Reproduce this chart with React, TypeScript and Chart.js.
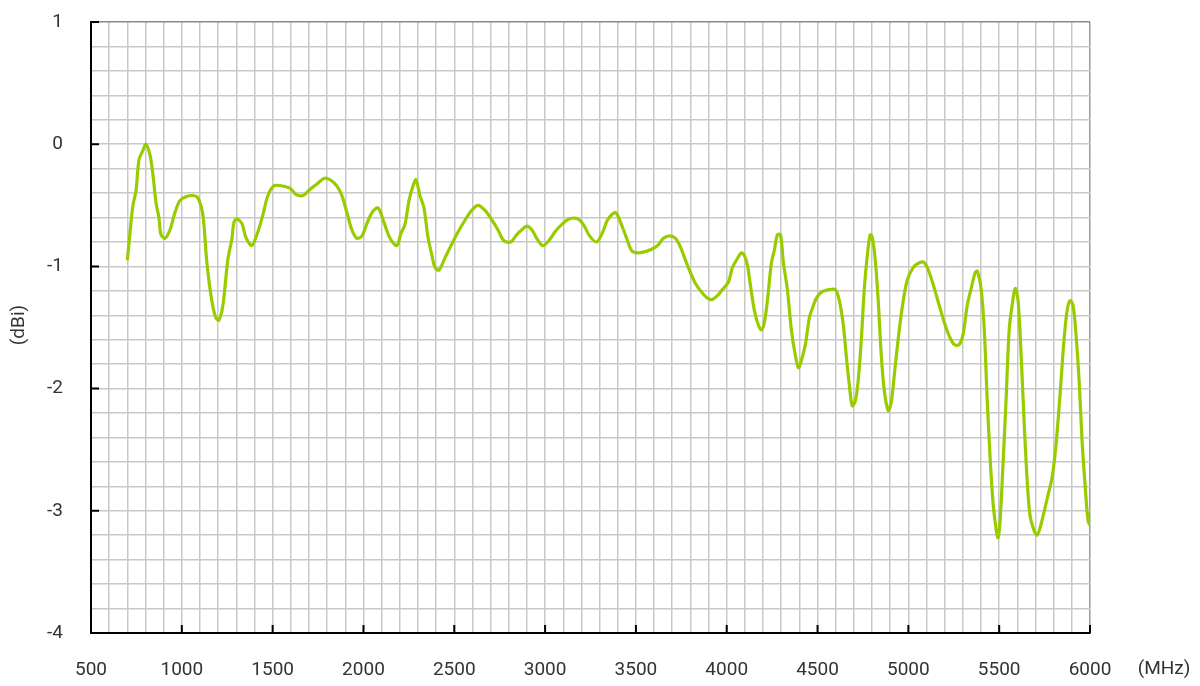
import React, { useEffect, useRef } from "react";
import { Chart, registerables } from "chart.js";

Chart.register(...registerables);

const freqMHz: number[] = [
  700, 715, 731, 748, 764, 786, 802, 825, 841, 858, 874, 885, 907, 935, 962, 990,
  1023, 1061, 1089, 1116, 1138, 1165, 1187, 1204, 1226, 1253, 1276, 1287, 1303, 1331,
  1352, 1385, 1418, 1446, 1474, 1507, 1545, 1595, 1628, 1667, 1705, 1749, 1782, 1815,
  1853, 1881, 1909, 1936, 1964, 1992, 2019, 2047, 2080, 2113, 2146, 2184, 2206, 2228,
  2251, 2273, 2289, 2311, 2333, 2355, 2377, 2394, 2416, 2449, 2482, 2520, 2564, 2597,
  2630, 2668, 2707, 2740, 2773, 2811, 2844, 2872, 2899, 2927, 2954, 2987, 3020, 3058,
  3097, 3135, 3179, 3212, 3245, 3284, 3317, 3344, 3387, 3421, 3449, 3476, 3509, 3548,
  3586, 3619, 3652, 3685, 3718, 3745, 3773, 3800, 3828, 3861, 3894, 3921, 3949, 3976,
  4009, 4031, 4053, 4081, 4097, 4114, 4130, 4152, 4174, 4191, 4207, 4224, 4246, 4262,
  4279, 4296, 4312, 4334, 4356, 4378, 4395, 4411, 4433, 4455, 4477, 4494, 4521, 4565,
  4598, 4620, 4642, 4658, 4675, 4691, 4708, 4724, 4741, 4757, 4774, 4790, 4801, 4818,
  4834, 4851, 4867, 4889, 4906, 4928, 4950, 4972, 4994, 5027, 5060, 5088, 5115, 5143,
  5170, 5198, 5225, 5253, 5280, 5302, 5324, 5346, 5368, 5380, 5401, 5418, 5434, 5451,
  5467, 5484, 5494, 5505, 5522, 5538, 5555, 5571, 5588, 5604, 5621, 5637, 5654, 5670,
  5692, 5709, 5725, 5747, 5769, 5791, 5813, 5835, 5857, 5874, 5890, 5907, 5923, 5940,
  5956, 5973, 5989, 6000,
];

const gainDBi: number[] = [
  -0.95, -0.72, -0.5, -0.38, -0.13, -0.05, 0.0, -0.09, -0.25, -0.48, -0.6, -0.74, -0.77, -0.7, -0.56, -0.46,
  -0.43, -0.42, -0.44, -0.58, -0.97, -1.28, -1.42, -1.44, -1.32, -0.95, -0.77, -0.64, -0.61, -0.65,
  -0.76, -0.83, -0.72, -0.58, -0.42, -0.34, -0.34, -0.36, -0.41, -0.42, -0.37, -0.32, -0.28, -0.29,
  -0.34, -0.42, -0.56, -0.7, -0.77, -0.75, -0.65, -0.56, -0.52, -0.64, -0.77, -0.83, -0.73, -0.66,
  -0.46, -0.34, -0.29, -0.42, -0.52, -0.76, -0.91, -1.01, -1.03, -0.93, -0.83, -0.72, -0.61, -0.54,
  -0.5, -0.54, -0.62, -0.7, -0.79, -0.8, -0.74, -0.7, -0.67, -0.7, -0.77, -0.83, -0.79, -0.71,
  -0.65, -0.61, -0.61, -0.66, -0.75, -0.8, -0.72, -0.62, -0.56, -0.66, -0.77, -0.87, -0.89, -0.88,
  -0.86, -0.83, -0.77, -0.75, -0.77, -0.84, -0.95, -1.05, -1.14, -1.21, -1.26, -1.27, -1.24, -1.19,
  -1.13, -1.01, -0.95, -0.89, -0.91, -0.99, -1.15, -1.36, -1.48, -1.52, -1.46, -1.28, -0.97, -0.87,
  -0.74, -0.74, -0.97, -1.19, -1.52, -1.73, -1.83, -1.77, -1.64, -1.42, -1.32, -1.26, -1.21, -1.19,
  -1.19, -1.28, -1.48, -1.73, -1.97, -2.14, -2.1, -1.93, -1.6, -1.19, -0.91, -0.74, -0.76, -0.95,
  -1.28, -1.73, -2.01, -2.18, -2.11, -1.81, -1.52, -1.28, -1.11, -1.01, -0.97, -0.97, -1.05, -1.18,
  -1.32, -1.46, -1.57, -1.64, -1.64, -1.55, -1.32, -1.18, -1.05, -1.04, -1.19, -1.52, -2.09, -2.59,
  -2.95, -3.16, -3.22, -3.08, -2.59, -2.09, -1.52, -1.32, -1.18, -1.28, -1.73, -2.26, -2.75, -3.04,
  -3.16, -3.2, -3.14, -3.01, -2.87, -2.73, -2.46, -2.05, -1.6, -1.36, -1.28, -1.32, -1.56, -1.93,
  -2.42, -2.79, -3.08, -3.12,
];

const xMajorTicks: number[] = [500, 1000, 1500, 2000, 2500, 3000, 3500, 4000, 4500, 5000, 5500, 6000];
const yMajorTicks: number[] = [1, 0, -1, -2, -3, -4];
const xUnit = "(MHz)";
const yUnit = "(dBi)";

const FONT = "Roboto, 'DejaVu Sans', sans-serif";

const decorPlugin = {
  id: "decor",
  afterDraw(chart: any) {
    const { ctx, chartArea, scales } = chart;
    const xs = scales.x;
    const ys = scales.y;
    ctx.save();
    ctx.strokeStyle = "#000";
    ctx.lineWidth = 2;
    ctx.beginPath();
    for (const v of xMajorTicks) {
      const px = xs.getPixelForValue(v);
      ctx.moveTo(px, chartArea.bottom);
      ctx.lineTo(px, chartArea.bottom - 8);
    }
    for (const v of yMajorTicks) {
      const py = ys.getPixelForValue(v);
      ctx.moveTo(chartArea.left, py);
      ctx.lineTo(chartArea.left + 8, py);
    }
    ctx.stroke();
    ctx.fillStyle = "#333";
    ctx.font = `19px ${FONT}`;
    ctx.textAlign = "center";
    ctx.textBaseline = "middle";
    ctx.fillText(xUnit, 1164, 669);
    ctx.translate(19, 325);
    ctx.rotate(-Math.PI / 2);
    ctx.fillText(yUnit, 0, 0);
    ctx.restore();
  },
};

export default function App() {
  const ref = useRef<HTMLCanvasElement | null>(null);
  useEffect(() => {
    if (!ref.current) return;
    const data = freqMHz.map((f, i) => ({ x: f, y: gainDBi[i] }));
    const chart = new Chart(ref.current, {
      type: "line",
      data: {
        datasets: [
          {
            data,
            borderColor: "#99cc00",
            borderWidth: 3.2,
            pointRadius: 0,
            tension: 0.3,
            fill: false,
          },
        ],
      },
      options: {
        responsive: false,
        animation: false,
        layout: { padding: { left: 0, right: 110, top: 22, bottom: 0 } },
        plugins: { legend: { display: false }, tooltip: { enabled: false } },
        scales: {
          x: {
            type: "linear",
            min: 500,
            max: 6000,
            afterFit: (s: any) => {
              s.height = 53;
              s.paddingLeft = 0;
              s.paddingRight = 0;
            },
            border: { display: true, color: "#000", width: 2 },
            grid: {
              drawTicks: false,
              lineWidth: 1.5,
              color: (c: any) => (c.tick && c.tick.value === 6000 ? "#999999" : "#c8c8c8"),
            },
            ticks: {
              stepSize: 100,
              autoSkip: false,
              maxRotation: 0,
              padding: 26,
              color: "#333",
              font: { family: FONT, size: 19 },
              callback: (v: any) => (Math.round(v) % 500 === 0 ? String(Math.round(v)) : ""),
            },
          },
          y: {
            type: "linear",
            min: -4,
            max: 1,
            afterFit: (s: any) => {
              s.width = 91;
              s.paddingTop = 0;
              s.paddingBottom = 0;
            },
            border: { display: true, color: "#000", width: 2 },
            grid: {
              drawTicks: false,
              lineWidth: 1.5,
              color: (c: any) =>
                c.tick && Math.abs(c.tick.value - 1) < 1e-6 ? "#8a8a8a" : "#c8c8c8",
            },
            ticks: {
              stepSize: 0.2,
              autoSkip: false,
              padding: 28,
              color: "#333",
              font: { family: FONT, size: 19 },
              callback: (v: any) => {
                const n = Number(v);
                const r = Math.round(n);
                return Math.abs(n - r) < 1e-6 ? String(r === 0 ? 0 : r) : "";
              },
            },
          },
        },
      },
      plugins: [decorPlugin],
    });
    return () => chart.destroy();
  }, []);
  return (
    <canvas
      ref={ref}
      width={1200}
      height={686}
      style={{ position: "fixed", left: 0, top: 0, display: "block", background: "#fff" }}
    />
  );
}
